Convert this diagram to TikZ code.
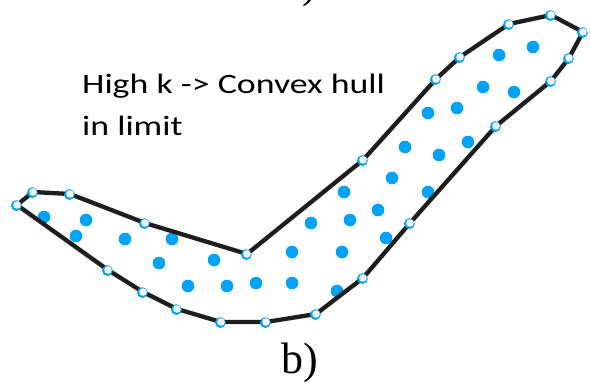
\documentclass[tikz,border=0pt]{standalone}
\usepackage{fontspec}
\setmainfont{Liberation Serif}
\newfontfamily\calib{Carlito}
\usepackage{graphicx}
\usetikzlibrary{calc}
\definecolor{dotblue}{RGB}{0,162,250}
\definecolor{edgegray}{RGB}{30,30,30}
\begin{document}
\begin{tikzpicture}[x=1pt,y=-1pt,
  hullline/.style={draw=edgegray,line width=4.3pt,line join=round},
  ptdot/.style={fill=dotblue},
  labeltext/.style={font=\calib\fontsize{28}{34}\selectfont,anchor=base west,inner sep=0pt},
  captext/.style={font=\fontsize{44}{44}\selectfont,anchor=base west,inner sep=0pt}]
\useasboundingbox (0,0) rectangle (590,384);
\clip (0,0) rectangle (590,384);
\fill[white] (0,0) rectangle (590,384);
% hull vertices
\foreach \n/\x/\y in {1/17/205,2/33/192,3/70/194,4/145/223,5/247/254,6/363/160,7/436/79,8/460/57,9/509/24,10/551/15,11/583/32,12/569/58,13/551/81,14/496/126,15/410/223,16/363/278,17/316/314,18/266/322,19/221/322,20/177/309,21/143/292,22/108/270}
  \coordinate (v\n) at (\x,\y);
% interior points
\foreach \x/\y in {44/217,86/220,76/236,125/239,172/239,159/263,214/260,188/286,227/286,256/283,292/283,292/252,342/252,337/291,311/223,350/220,386/238,344/192,378/210,392/178,428/192,405/147,439/155,468/142,428/113,457/108,483/87,514/92,499/55,533/47}
  \fill[ptdot] (\x,\y) circle (6.3);
\draw[hullline] (v1) -- (v2) -- (v3) -- (v4) -- (v5) -- (v6) -- (v7) -- (v8) -- (v9) -- (v10) -- (v11) -- (v12) -- (v13) -- (v14) -- (v15) -- (v16) -- (v17) -- (v18) -- (v19) -- (v20) -- (v21) -- (v22) -- cycle;
\foreach \n in {1,...,22}{
  \fill[dotblue] ($(v\n)+(-0.6,0.6)$) circle (5.4);
  \fill[white!94!gray] (v\n) circle (3.8);
}
\node[labeltext] (t1) at (82,93) {\scalebox{1.28}[1]{High k -> Convex hull}};
\node[labeltext] (t2) at (82,135) {\scalebox{1.28}[1]{in limit}};
\node[captext] (cap) at (281,373) {b)};
\node[captext] (prevcap) at (302,-3) {)};
\end{tikzpicture}
\end{document}
